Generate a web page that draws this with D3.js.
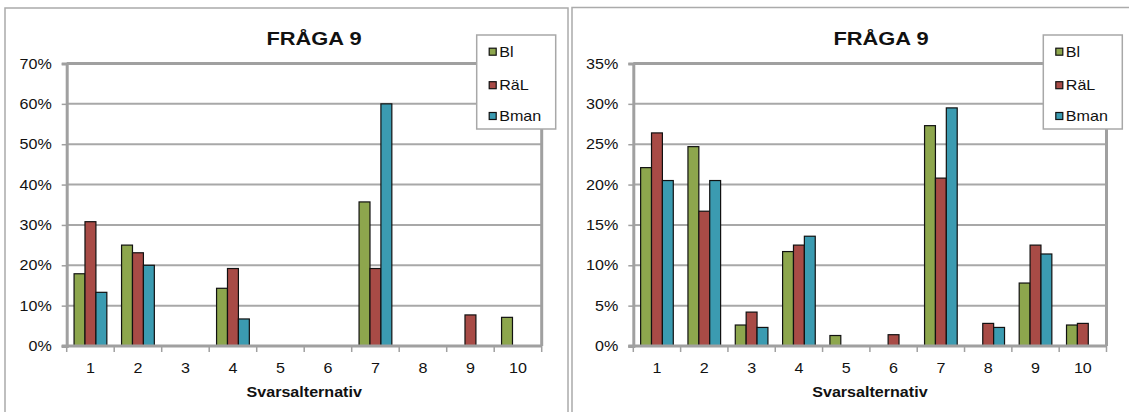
<!DOCTYPE html>
<html>
<head>
<meta charset="utf-8">
<script src="https://cdn.jsdelivr.net/npm/d3@7/dist/d3.min.js"></script>
<style>
  html, body { margin: 0; padding: 0; background: #fff; }
  svg { display: block; font-family: "Liberation Sans", Arial, sans-serif; }
</style>
</head>
<body>
<svg id="chart" width="1129" height="412"></svg>
<script>
// ---- data ----
const categories = ["1","2","3","4","5","6","7","8","9","10"];
const seriesNames = ["Bl","RäL","Bman"];
const seriesColors = ["#8DA64D","#A84B46","#3B9BB1"];

const leftBl   = [17.9, 25.0, 0, 14.3, 0, 0, 35.7, 0, 0, 7.1];
const leftRaL  = [30.8, 23.1, 0, 19.2, 0, 0, 19.2, 0, 7.7, 0];
const leftBman = [13.3, 20.0, 0, 6.7, 0, 0, 60.0, 0, 0, 0];
const leftTicks = [0, 10, 20, 30, 40, 50, 60, 70];

const rightBl   = [22.1, 24.7, 2.6, 11.7, 1.3, 0, 27.3, 0, 7.8, 2.6];
const rightRaL  = [26.4, 16.7, 4.2, 12.5, 0, 1.4, 20.8, 2.8, 12.5, 2.8];
const rightBman = [20.5, 20.5, 2.3, 13.6, 0, 0, 29.5, 2.3, 11.4, 0];
const rightTicks = [0, 5, 10, 15, 20, 25, 30, 35];

const titleText = "FRÅGA 9";
const xAxisTitle = "Svarsalternativ";

// ---- drawing ----
const svg = d3.select("#chart");
const SX = 1.15;

function txt(g, x, y, s, size, weight, anchor) {
  return g.append("text")
    .attr("transform", `translate(${x},${y}) scale(${SX},1)`)
    .attr("text-anchor", anchor || "start")
    .attr("font-size", size)
    .attr("font-weight", weight || "normal")
    .attr("fill", "#111")
    .text(s);
}

function drawChart(cfg) {
  const g = svg.append("g");
  // outer chart border
  g.append("rect")
    .attr("x", cfg.box[0]).attr("y", cfg.box[1])
    .attr("width", cfg.box[2]).attr("height", cfg.box[3])
    .attr("fill", "#fff").attr("stroke", "#ababab").attr("stroke-width", 1.5);

  const x = d3.scaleBand().domain(categories).range([cfg.x0, cfg.x1])
    .paddingInner(0.31).paddingOuter(0.155);
  const xs = d3.scaleBand().domain(seriesNames).range([0, x.bandwidth()]);
  const y = d3.scaleLinear().domain([0, cfg.max]).range([cfg.y1, cfg.y0]);

  // gridlines
  g.append("g").selectAll("line").data(cfg.ticks.slice(1, -1)).join("line")
    .attr("x1", cfg.x0).attr("x2", cfg.x1)
    .attr("y1", d => y(d)).attr("y2", d => y(d))
    .attr("stroke", "#a8a8a8").attr("stroke-width", 2);

  // plot frame top & right
  g.append("path")
    .attr("d", `M${cfg.x0},${y(cfg.max)}H${cfg.x1}V${cfg.y1}`)
    .attr("fill", "none").attr("stroke", "#a0a0a0").attr("stroke-width", 3);

  // bars
  const data = [];
  categories.forEach((c, i) => {
    cfg.series.forEach((arr, j) => {
      if (arr[i] > 0) data.push({c, s: seriesNames[j], v: arr[i], color: seriesColors[j]});
    });
  });
  g.append("g").selectAll("rect").data(data).join("rect")
    .attr("x", d => x(d.c) + xs(d.s))
    .attr("y", d => y(d.v))
    .attr("width", xs.bandwidth())
    .attr("height", d => y(0) - y(d.v))
    .attr("fill", d => d.color)
    .attr("stroke", "#111").attr("stroke-width", 1.2);

  // y axis
  const yAxis = d3.axisLeft(y).tickValues(cfg.ticks).tickSize(5).tickFormat("");
  const ya = g.append("g").attr("transform", `translate(${cfg.x0},0)`).call(yAxis);
  ya.select(".domain").attr("stroke", "#a0a0a0").attr("stroke-width", 3);
  ya.selectAll(".tick line").attr("stroke", "#a0a0a0").attr("stroke-width", 1.5);
  cfg.ticks.forEach(t => {
    txt(g, cfg.x0 - 15, y(t) + 5, t + "%", 14, "normal", "end");
  });

  // x axis: ticks at category boundaries
  const bounds = d3.range(categories.length + 1).map(i => cfg.x0 + i * x.step());
  g.append("g").selectAll("line").data(bounds).join("line")
    .attr("x1", d => d).attr("x2", d => d)
    .attr("y1", cfg.y1).attr("y2", cfg.y1 + 6)
    .attr("stroke", "#a0a0a0").attr("stroke-width", 1.5);
  g.append("line")
    .attr("x1", cfg.x0 - 5).attr("x2", cfg.x1)
    .attr("y1", cfg.y1).attr("y2", cfg.y1)
    .attr("stroke", "#a0a0a0").attr("stroke-width", 3);
  categories.forEach(c => {
    txt(g, x(c) + x.bandwidth() / 2, 372.5, c, 14, "normal", "middle");
  });

  // titles
  txt(g, cfg.titleX, 45, titleText, 19, "bold", "middle");
  txt(g, (cfg.x0 + cfg.x1) / 2, 397, xAxisTitle, 14, "bold", "middle");

  // legend
  const lg = g.append("g");
  lg.append("rect")
    .attr("x", cfg.legX).attr("y", 35).attr("width", 79).attr("height", 94)
    .attr("fill", "#fff").attr("stroke", "#a8a8a8").attr("stroke-width", 1.5);
  const legY = [51.7, 85.2, 116];
  seriesNames.forEach((s, j) => {
    lg.append("rect")
      .attr("x", cfg.legX + 12.5).attr("y", legY[j] - 3.5)
      .attr("width", 7).attr("height", 7)
      .attr("fill", seriesColors[j]).attr("stroke", "#111").attr("stroke-width", 1.2);
    txt(lg, cfg.legX + 22.5, legY[j] + 5, s, 14, "normal", "start");
  });
}

drawChart({
  box: [5, 8, 563, 420],
  x0: 66.7, x1: 541.7, y0: 63.5, y1: 346,
  max: 70, ticks: leftTicks,
  series: [leftBl, leftRaL, leftBman],
  titleX: 314, legX: 476.7
});
drawChart({
  box: [572, 7.5, 580, 420],
  x0: 633.3, x1: 1106.5, y0: 63.5, y1: 346,
  max: 35, ticks: rightTicks,
  series: [rightBl, rightRaL, rightBman],
  titleX: 881, legX: 1043.3
});
</script>
</body>
</html>
